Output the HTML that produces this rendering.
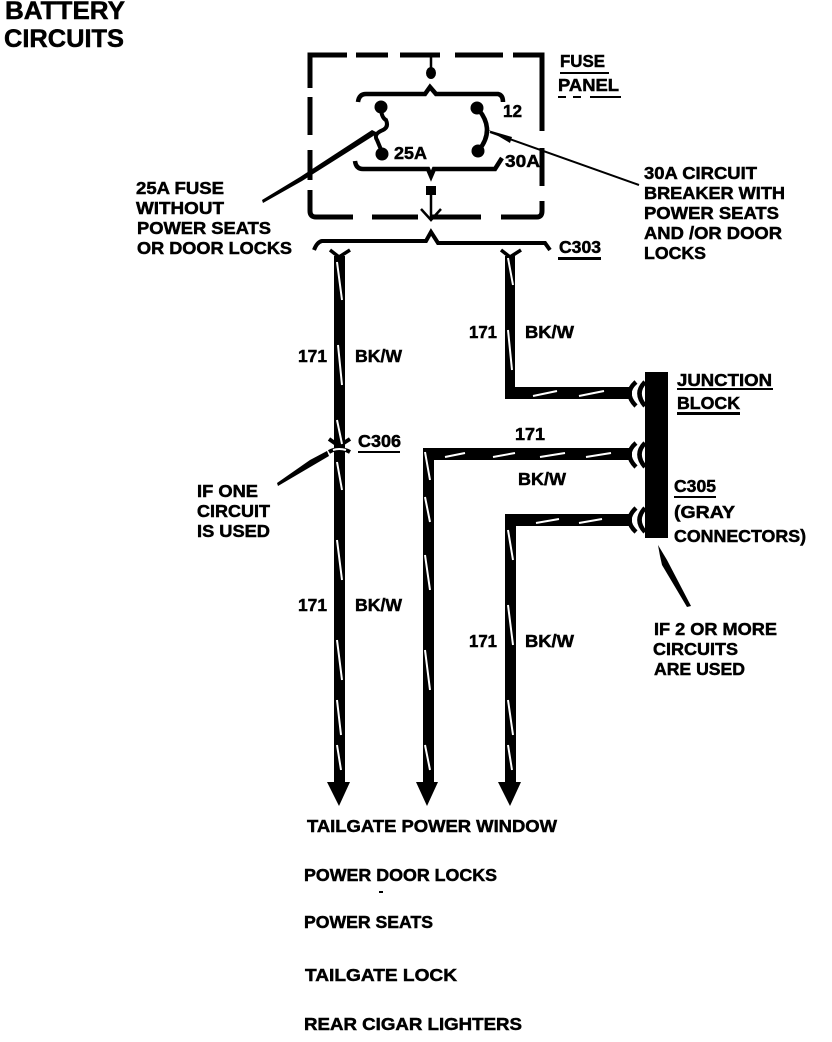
<!DOCTYPE html>
<html><head><meta charset="utf-8"><style>
html,body{margin:0;padding:0;background:#fff}
svg{display:block}
text{font-family:"Liberation Sans",sans-serif;font-weight:bold;font-size:17.500px;fill:#000;stroke:#000;stroke-width:.5px}
.w{stroke:#fff;stroke-width:2;fill:none}
.k{stroke:#000;fill:none}
</style></head><body>
<svg width="832" height="1042" viewBox="0 0 832 1042" xmlns="http://www.w3.org/2000/svg">
<rect width="832" height="1042" fill="#fff"/>
<!-- dashed fuse panel -->
<g class="k" stroke-width="5">
<path d="M347 55H310V88M356 55H388M400 55H440M455 55H503M513 55H542V131"/>
<path d="M310 97V135M310 150V180"/>
<path d="M310 190V211Q310 217 316 217H353M372 217H418M430 217H481M501 217H537Q542 217 542 211V201"/>
<path d="M542 148V186"/>
</g>
<!-- inner brackets -->
<path class="k" stroke-width="4.500" d="M358 102Q359 94 366 94H425L430 87L436 94H498Q503 95 503 102"/>
<path class="k" stroke-width="4.500" d="M355 161Q356 169 363 169H428L431 176L434 169H495L502 158"/>
<path class="k" stroke-width="2.500" d="M431 55V72M431 190V219M421 209L431 220L441 209"/>
<ellipse cx="431" cy="73" rx="5" ry="6"/><rect x="426" y="186" width="10" height="9"/>
<!-- fuse and breaker -->
<circle cx="381" cy="107" r="6.500"/><circle cx="382" cy="154" r="6.500"/>
<path class="k" stroke-width="4" d="M381 110Q382 118 386 120Q389 127 383 130Q373 134 377 140L382 152"/>
<circle cx="477" cy="108" r="6.500"/><circle cx="478" cy="151" r="6.500"/>
<path class="k" stroke-width="4.500" d="M479 110Q495 130 479 150"/>
<!-- leaders -->
<path d="M262 200L300 177L372 130L378 133L302 181L263 203Z"/>
<path class="k" stroke-width="2" d="M490 132L639 185"/>
<path d="M488 130L512 137L510 143Z"/>
<path d="M658 545L667 560L691 606L687 607L662 565L660 556Z"/>
<path d="M327 451L310 460L277 483L278 486L312 466L329 456Z"/>
<!-- C303 bracket -->
<path class="k" stroke-width="4" d="M314 250Q317 242 322 241H426L431 232L438 243H545L550 250"/>
<path class="k" stroke-width="3.500" d="M330 250L339 257L350 250M501 250L510 257L521 250"/>
<!-- wires -->
<rect x="334" y="256" width="11" height="530"/>
<path d="M327 782H350L339 806Z"/>
<rect x="505" y="256" width="10" height="143"/>
<rect x="505" y="387" width="127" height="12"/>
<rect x="423" y="448" width="209" height="12"/>
<rect x="423" y="448" width="11" height="338"/>
<path d="M416 782H438L427 806Z"/>
<rect x="505" y="514" width="127" height="12"/>
<rect x="505" y="514" width="11" height="272"/>
<path d="M498 782H521L510 806Z"/>
<!-- junction block -->
<rect x="645" y="372" width="23" height="166"/>
<g class="k" stroke-width="4.500">
<path d="M636 382Q623 393 636 406M645 382Q634 393 645 406"/>
<path d="M636 443Q623 454 636 467M645 443Q634 454 645 467"/>
<path d="M636 508Q623 520 636 532M645 508Q634 520 645 532"/>
</g>
<!-- C306 splice -->
<path class="k" stroke-width="4" d="M329 439L339 446L350 439M329 452Q339 446 350 452"/>
<path class="w" d="M333 450Q339 448 346 450"/>
<!-- white wire highlights -->
<g class="w">
<path d="M337 262L342 300M338 345L342 385M337 420L342 444M337 462L342 490M337 540L342 580M337 640L342 680M337 700L341 735M337 745L341 770"/>
<path d="M508 258L513 285M508 330L512 370"/>
<path d="M533 396L557 391M579 396L604 391"/>
<path d="M445 457L465 453M493 457L515 453M540 457L565 453M586 457L611 453"/>
<path d="M536 523L559 519M579 523L602 519"/>
<path d="M425 452L430 480M425 497L430 522M425 555L430 590M425 650L430 690M425 745L430 770"/>
<path d="M508 530L513 560M508 605L513 645M508 700L513 735M508 745L512 770"/>
</g>
<!-- underlines -->
<g fill="#000">
<rect x="560" y="72" width="49" height="2"/><rect x="558" y="96" width="8" height="2"/><rect x="573" y="96" width="8" height="2"/><rect x="590" y="96" width="31" height="2"/>
<rect x="558" y="257" width="43" height="3"/>
<rect x="358" y="451" width="42" height="2"/>
<rect x="677" y="388" width="96" height="2"/><rect x="677" y="412" width="63" height="3"/>
<rect x="674" y="496" width="42" height="2"/>
<rect x="379" y="891" width="4" height="2"/>
</g>
<!-- labels -->
<text x="5" y="19" style="font-size:25px" textLength="120" lengthAdjust="spacingAndGlyphs">BATTERY</text>
<text x="4" y="47" style="font-size:25px" textLength="120" lengthAdjust="spacingAndGlyphs">CIRCUITS</text>
<text x="136" y="194" textLength="88" lengthAdjust="spacingAndGlyphs">25A FUSE</text>
<text x="136" y="214" textLength="88" lengthAdjust="spacingAndGlyphs">WITHOUT</text>
<text x="137" y="234" textLength="134" lengthAdjust="spacingAndGlyphs">POWER SEATS</text>
<text x="137" y="254" textLength="155" lengthAdjust="spacingAndGlyphs">OR DOOR LOCKS</text>
<text x="560" y="67" textLength="45" lengthAdjust="spacingAndGlyphs">FUSE</text>
<text x="558" y="91" textLength="61" lengthAdjust="spacingAndGlyphs">PANEL</text>
<text x="503" y="117" textLength="19" lengthAdjust="spacingAndGlyphs">12</text>
<text x="394" y="159" textLength="33" lengthAdjust="spacingAndGlyphs">25A</text>
<text x="505" y="167" textLength="35" lengthAdjust="spacingAndGlyphs">30A</text>
<text x="559" y="253" textLength="42" lengthAdjust="spacingAndGlyphs">C303</text>
<text x="644" y="179" textLength="113" lengthAdjust="spacingAndGlyphs">30A CIRCUIT</text>
<text x="644" y="199" textLength="141" lengthAdjust="spacingAndGlyphs">BREAKER WITH</text>
<text x="644" y="219" textLength="135" lengthAdjust="spacingAndGlyphs">POWER SEATS</text>
<text x="644" y="239" textLength="138" lengthAdjust="spacingAndGlyphs">AND /OR DOOR</text>
<text x="644" y="259" textLength="62" lengthAdjust="spacingAndGlyphs">LOCKS</text>
<text x="298" y="362" textLength="29" lengthAdjust="spacingAndGlyphs">171</text>
<text x="355" y="362" textLength="47" lengthAdjust="spacingAndGlyphs">BK/W</text>
<text x="469" y="338" textLength="28" lengthAdjust="spacingAndGlyphs">171</text>
<text x="525" y="338" textLength="49" lengthAdjust="spacingAndGlyphs">BK/W</text>
<text x="515" y="440" textLength="30" lengthAdjust="spacingAndGlyphs">171</text>
<text x="518" y="485" textLength="48" lengthAdjust="spacingAndGlyphs">BK/W</text>
<text x="298" y="611" textLength="29" lengthAdjust="spacingAndGlyphs">171</text>
<text x="355" y="611" textLength="47" lengthAdjust="spacingAndGlyphs">BK/W</text>
<text x="469" y="647" textLength="28" lengthAdjust="spacingAndGlyphs">171</text>
<text x="525" y="647" textLength="49" lengthAdjust="spacingAndGlyphs">BK/W</text>
<text x="358" y="447" textLength="43" lengthAdjust="spacingAndGlyphs">C306</text>
<text x="197" y="497" textLength="61" lengthAdjust="spacingAndGlyphs">IF ONE</text>
<text x="197" y="517" textLength="73" lengthAdjust="spacingAndGlyphs">CIRCUIT</text>
<text x="197" y="537" textLength="73" lengthAdjust="spacingAndGlyphs">IS USED</text>
<text x="677" y="386" textLength="95" lengthAdjust="spacingAndGlyphs">JUNCTION</text>
<text x="677" y="409" textLength="63" lengthAdjust="spacingAndGlyphs">BLOCK</text>
<text x="674" y="492" textLength="42" lengthAdjust="spacingAndGlyphs">C305</text>
<text x="674" y="518" textLength="61" lengthAdjust="spacingAndGlyphs">(GRAY</text>
<text x="674" y="542" textLength="132" lengthAdjust="spacingAndGlyphs">CONNECTORS)</text>
<text x="654" y="635" textLength="123" lengthAdjust="spacingAndGlyphs">IF 2 OR MORE</text>
<text x="653" y="655" textLength="85" lengthAdjust="spacingAndGlyphs">CIRCUITS</text>
<text x="654" y="675" textLength="91" lengthAdjust="spacingAndGlyphs">ARE USED</text>
<text x="307" y="832" textLength="250" lengthAdjust="spacingAndGlyphs">TAILGATE POWER WINDOW</text>
<text x="304" y="881" textLength="193" lengthAdjust="spacingAndGlyphs">POWER DOOR LOCKS</text>
<text x="304" y="928" textLength="129" lengthAdjust="spacingAndGlyphs">POWER SEATS</text>
<text x="305" y="981" textLength="152" lengthAdjust="spacingAndGlyphs">TAILGATE LOCK</text>
<text x="304" y="1030" textLength="218" lengthAdjust="spacingAndGlyphs">REAR CIGAR LIGHTERS</text>
</svg>
</body></html>
